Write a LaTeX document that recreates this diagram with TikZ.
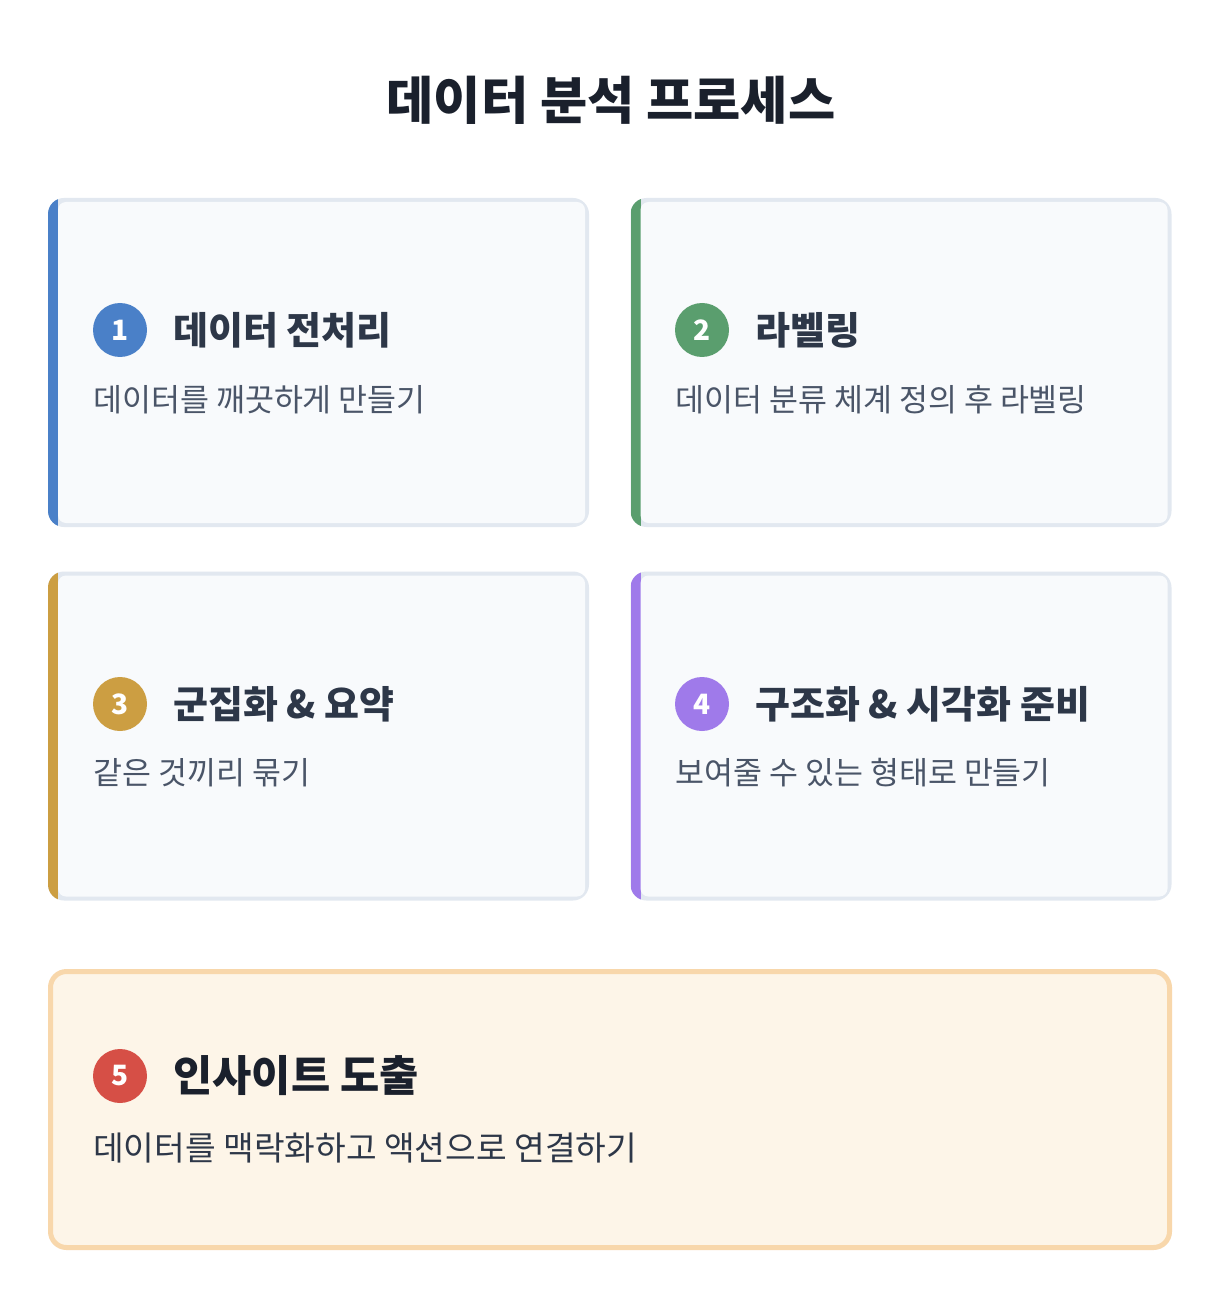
\documentclass[tikz,border=0pt]{standalone}
\usepackage{fontspec}
\setmainfont{Noto Sans CJK KR}
\usetikzlibrary{positioning}
\def\pxu{0.75pt}
\definecolor{cardline}{HTML}{E2E8F0}
\definecolor{cardbg}{HTML}{F8FAFC}
\definecolor{stepblue}{HTML}{4A80C8}
\definecolor{stepgreen}{HTML}{5A9E6E}
\definecolor{stepgold}{HTML}{CC9E42}
\definecolor{steppurple}{HTML}{9F7AEA}
\definecolor{stepred}{HTML}{D64F46}
\definecolor{sumline}{HTML}{F8D7AB}
\definecolor{sumbg}{HTML}{FDF5E8}
\definecolor{headtxt}{HTML}{1A202C}
\definecolor{titletxt}{HTML}{2D3748}
\definecolor{desctxt}{HTML}{4A5568}
\tikzset{
  card/.style={
    rectangle, rounded corners=16*\pxu, minimum width=541*\pxu, minimum height=329*\pxu,
    inner sep=0pt, fill=cardline,
    path picture={
      \fill[#1, sharp corners] (path picture bounding box.north west)
        rectangle ([xshift=10*\pxu]path picture bounding box.south west);
      \fill[cardbg, rounded corners=8*\pxu]
        ([xshift=10*\pxu,yshift=-4*\pxu]path picture bounding box.north west)
        rectangle ([xshift=-4*\pxu,yshift=4*\pxu]path picture bounding box.south east);
    }
  },
  summary/.style={
    rectangle, rounded corners=16*\pxu, minimum width=1119*\pxu, minimum height=276*\pxu,
    inner sep=0pt, draw=sumline, line width=5*\pxu, fill=sumbg
  },
  badge/.style={
    circle, fill=#1, minimum size=54*\pxu, inner sep=0pt, text=white,
    font=\bfseries\fontsize{21}{21}\selectfont
  },
  steptitle/.style={
    anchor=west, inner sep=0pt, text=titletxt,
    font=\bfseries\fontsize{28.5}{32}\selectfont
  },
  stepdesc/.style={
    anchor=west, inner sep=0pt, text=desctxt,
    font=\fontsize{23.6}{27}\selectfont
  }
}
\begin{document}
\begin{tikzpicture}[x=\pxu, y=-\pxu]
  % Canvas
  \fill[white] (0,0) rectangle (1230,1308);
  \useasboundingbox (0,0) rectangle (1230,1308);

  % Heading
  \node[text=headtxt, font=\bfseries\fontsize{38.5}{42}\selectfont] (head) at (611,100) {데이터 분석 프로세스};

  % Step cards
  \node[card=stepblue] (card1) at (318.5,362.5) {};
  \node[card=stepgreen] (card2) at (901,362.5) {};
  \node[card=stepgold] (card3) at (318.5,736) {};
  \node[card=steppurple] (card4) at (901,736) {};

  % Summary card
  \node[summary] (card5) at (610,1109.5) {};

  % Step 1
  \node[badge=stepblue] (num1) at (120,330) {1};
  \node[steptitle] (title1) at (173,330) {데이터 전처리};
  \node[stepdesc] (desc1) at (93,400) {데이터를 깨끗하게 만들기};

  % Step 2
  \node[badge=stepgreen] (num2) at (702,330) {2};
  \node[steptitle] (title2) at (755,330) {라벨링};
  \node[stepdesc] (desc2) at (675,400) {데이터 분류 체계 정의 후 라벨링};

  % Step 3
  \node[badge=stepgold] (num3) at (120,704) {3};
  \node[steptitle] (title3) at (173,704) {군집화 \& 요약};
  \node[stepdesc] (desc3) at (93,773) {같은 것끼리 묶기};

  % Step 4
  \node[badge=steppurple] (num4) at (702,704) {4};
  \node[steptitle] (title4) at (755,704) {구조화 \& 시각화 준비};
  \node[stepdesc] (desc4) at (675,773) {보여줄 수 있는 형태로 만들기};

  % Step 5
  \node[badge=stepred] (num5) at (120,1076) {5};
  \node[steptitle, text=headtxt, font=\bfseries\fontsize{32}{36}\selectfont] (title5) at (173,1076) {인사이트 도출};
  \node[stepdesc, text=titletxt, font=\fontsize{25}{29}\selectfont] (desc5) at (93,1148) {데이터를 맥락화하고 액션으로 연결하기};
\end{tikzpicture}
\end{document}
